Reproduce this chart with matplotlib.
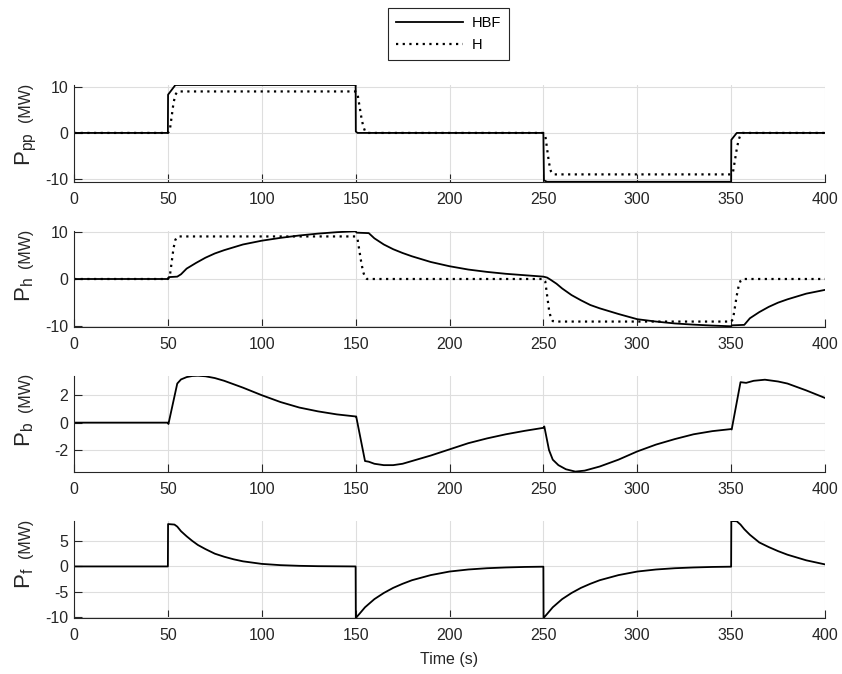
import matplotlib
matplotlib.use("Agg")
import matplotlib.pyplot as plt
from matplotlib.lines import Line2D

plt.rcParams['font.family'] = ['Liberation Sans', 'DejaVu Sans']
plt.rcParams['mathtext.fontset'] = 'custom'
plt.rcParams['mathtext.rm'] = 'Liberation Sans'
plt.rcParams['mathtext.it'] = 'Liberation Sans'
plt.rcParams['axes.unicode_minus'] = False

# ---------------- data ----------------
xticks = [0, 50, 100, 150, 200, 250, 300, 350, 400]

# H system (dotted) - same power reference in P_pp and P_h
t_H = [0, 50, 51, 52, 53, 54, 55, 56,
       150, 151, 152, 153, 154, 155, 156,
       250, 251, 252, 253, 254, 255, 256,
       350, 351, 352, 353, 354, 355, 356, 400]
p_H = [0, 0, 0.5, 3.5, 6.5, 8.3, 8.9, 9,
       9, 8.5, 6, 3.5, 1.5, 0.4, 0,
       0, -0.5, -3.5, -6.5, -8.3, -8.9, -9,
       -9, -8.5, -6, -3.5, -1.5, -0.4, 0, 0]

# HBF P_pp
t_ppp = [0, 50, 50.1, 54, 150, 150.1, 151, 250, 250.3, 252, 350, 350.1, 353, 400]
ppp_hbf = [0, 0, 8.3, 10.4, 10.4, 0.3, 0, 0, -10.3, -10.6, -10.6, -1.5, 0, 0]

# HBF P_h
t_ph = [0, 50, 50.5, 55, 57, 60, 65, 70, 75, 80, 90, 100, 110, 120, 130, 140, 150,
        150.5, 157, 160, 165, 170, 175, 180, 190, 200, 210, 220, 230, 240, 250,
        252, 254, 257, 260, 265, 270, 275, 280, 290, 300, 310, 320, 330, 340, 350,
        350.5, 357, 360, 365, 370, 375, 380, 390, 400]
ph_hbf = [0, 0, 0.4, 0.5, 1.0, 2.2, 3.4, 4.5, 5.4, 6.1, 7.3, 8.1, 8.7, 9.2, 9.6, 9.9, 10.1,
          9.8, 9.7, 8.6, 7.3, 6.3, 5.5, 4.8, 3.6, 2.7, 2.0, 1.5, 1.1, 0.8, 0.5,
          0.3, -0.2, -1.0, -2.0, -3.4, -4.5, -5.5, -6.2, -7.4, -8.5, -9.0, -9.4, -9.65, -9.85, -10.0,
          -9.8, -9.7, -8.3, -7.0, -5.9, -5.0, -4.3, -3.1, -2.3]

# HBF P_b
t_pb = [0, 50, 50.3, 55, 57, 60, 63, 66, 70, 75, 80, 90, 100, 110, 120, 130, 140, 150,
        150.3, 155, 157, 160, 165, 170, 175, 180, 190, 200, 210, 220, 230, 240, 250,
        250.5, 253, 255, 258, 262, 267, 272, 280, 290, 300, 310, 320, 330, 340, 350,
        350.3, 355, 358, 362, 368, 375, 380, 390, 400]
pb_hbf = [0, 0, -0.1, 2.85, 3.15, 3.32, 3.40, 3.42, 3.38, 3.25, 3.05, 2.55, 2.0, 1.5, 1.1, 0.82, 0.6, 0.45,
          0.45, -2.8, -2.85, -3.0, -3.1, -3.1, -3.0, -2.8, -2.4, -1.95, -1.5, -1.15, -0.85, -0.6, -0.38,
          -0.28, -2.0, -2.7, -3.1, -3.4, -3.57, -3.5, -3.2, -2.7, -2.1, -1.6, -1.2, -0.85, -0.62, -0.47,
          -0.5, 2.95, 2.9, 3.05, 3.13, 3.0, 2.85, 2.35, 1.8]

# HBF P_f
t_pf = [0, 50, 50.1, 53.5, 55, 57, 60, 63, 66, 70, 75, 80, 85, 90, 100, 110, 120, 130, 150,
        150.1, 152, 155, 160, 165, 170, 175, 180, 190, 200, 210, 220, 230, 240, 250,
        250.1, 252, 255, 260, 265, 270, 275, 280, 290, 300, 310, 320, 330, 340, 350,
        350.1, 353, 355, 357, 360, 365, 370, 375, 380, 390, 400]
pf_hbf = [0, 0, 8.3, 8.2, 7.8, 6.9, 5.9, 5.0, 4.2, 3.4, 2.5, 1.9, 1.4, 1.0, 0.5, 0.25, 0.12, 0.05, 0,
          -10.1, -9.3, -8.0, -6.4, -5.2, -4.2, -3.4, -2.7, -1.7, -1.0, -0.6, -0.35, -0.2, -0.1, -0.05,
          -10.1, -9.3, -8.0, -6.4, -5.2, -4.2, -3.4, -2.7, -1.7, -1.0, -0.6, -0.35, -0.2, -0.1, -0.05,
          8.9, 8.85, 8.2, 7.3, 6.2, 4.7, 3.8, 3.0, 2.3, 1.2, 0.4]

# ---------------- figure ----------------
W, H = 842, 674
fig = plt.figure(figsize=(W / 100, H / 100), dpi=100)

ax_color = '#262626'
grid_color = '#dedede'
fs_tick = 11.5
fs_lab = 11.5

def make_ax(top_px, bot_px, ylim, yticks, sub):
    ax = fig.add_axes([74 / W, 1 - bot_px / H, (825 - 74) / W, (bot_px - top_px) / H])
    ax.set_xlim(0, 400)
    ax.set_ylim(*ylim)
    ax.set_xticks(xticks)
    ax.set_yticks(yticks)
    ax.grid(True, color=grid_color, linewidth=0.8)
    ax.set_axisbelow(True)
    for s in ['top', 'right']:
        ax.spines[s].set_visible(False)
    for s in ['left', 'bottom']:
        ax.spines[s].set_color(ax_color)
        ax.spines[s].set_linewidth(0.8)
    ax.tick_params(direction='in', length=5.5, width=0.8, color=ax_color,
                   labelsize=fs_tick, labelcolor=ax_color)
    ax.tick_params(axis='x', pad=7.5)
    ax.tick_params(axis='y', pad=4)
    # y label: "P_sub" (larger) and "(MW)"
    c = (top_px + bot_px) / 2.0
    xb = 30.0
    fig.text(xb / W, 1 - (c - 11.5) / H, '(MW)', rotation=90, rotation_mode='anchor',
             ha='left', va='baseline', fontsize=fs_lab, color=ax_color)
    fig.text(xb / W, 1 - (c - 1.5) / H, r'$\mathregular{P_{%s}}$' % sub, rotation=90,
             rotation_mode='anchor', ha='right', va='baseline', fontsize=16, color=ax_color)
    return ax

ax1 = make_ax(85, 182, (-10.65, 10.4), [-10, 0, 10], 'pp')
ax1.plot(t_ppp, ppp_hbf, color='black', lw=1.3)
ax1.plot(t_H, p_H, color='black', lw=1.6, linestyle=(0, (1, 2)))

ax2 = make_ax(231, 327, (-10.15, 10.15), [-10, 0, 10], 'h')
ax2.plot(t_ph, ph_hbf, color='black', lw=1.3)
ax2.plot(t_H, p_H, color='black', lw=1.6, linestyle=(0, (1, 2)))

ax3 = make_ax(376, 472, (-3.6, 3.4), [-2, 0, 2], 'b')
ax3.plot(t_pb, pb_hbf, color='black', lw=1.3)

ax4 = make_ax(521, 618, (-10.1, 8.9), [-10, -5, 0, 5], 'f')
ax4.plot(t_pf, pf_hbf, color='black', lw=1.3)
ax4.set_xlabel('Time (s)', fontsize=fs_lab, color=ax_color, labelpad=6)

handles = [Line2D([], [], color='black', lw=1.3),
           Line2D([], [], color='black', lw=1.6, linestyle=(0, (1, 2)))]
leg = fig.legend(handles, ['HBF', 'H'], loc='center',
                 bbox_to_anchor=(448.5 / W, 1 - 34 / H), fontsize=10.5,
                 fancybox=False, framealpha=1, edgecolor=ax_color,
                 handlelength=4.6, handletextpad=0.6, borderpad=0.55,
                 labelspacing=0.6, borderaxespad=0)
leg.get_frame().set_linewidth(0.8)

fig.savefig('out.png', dpi=100)
